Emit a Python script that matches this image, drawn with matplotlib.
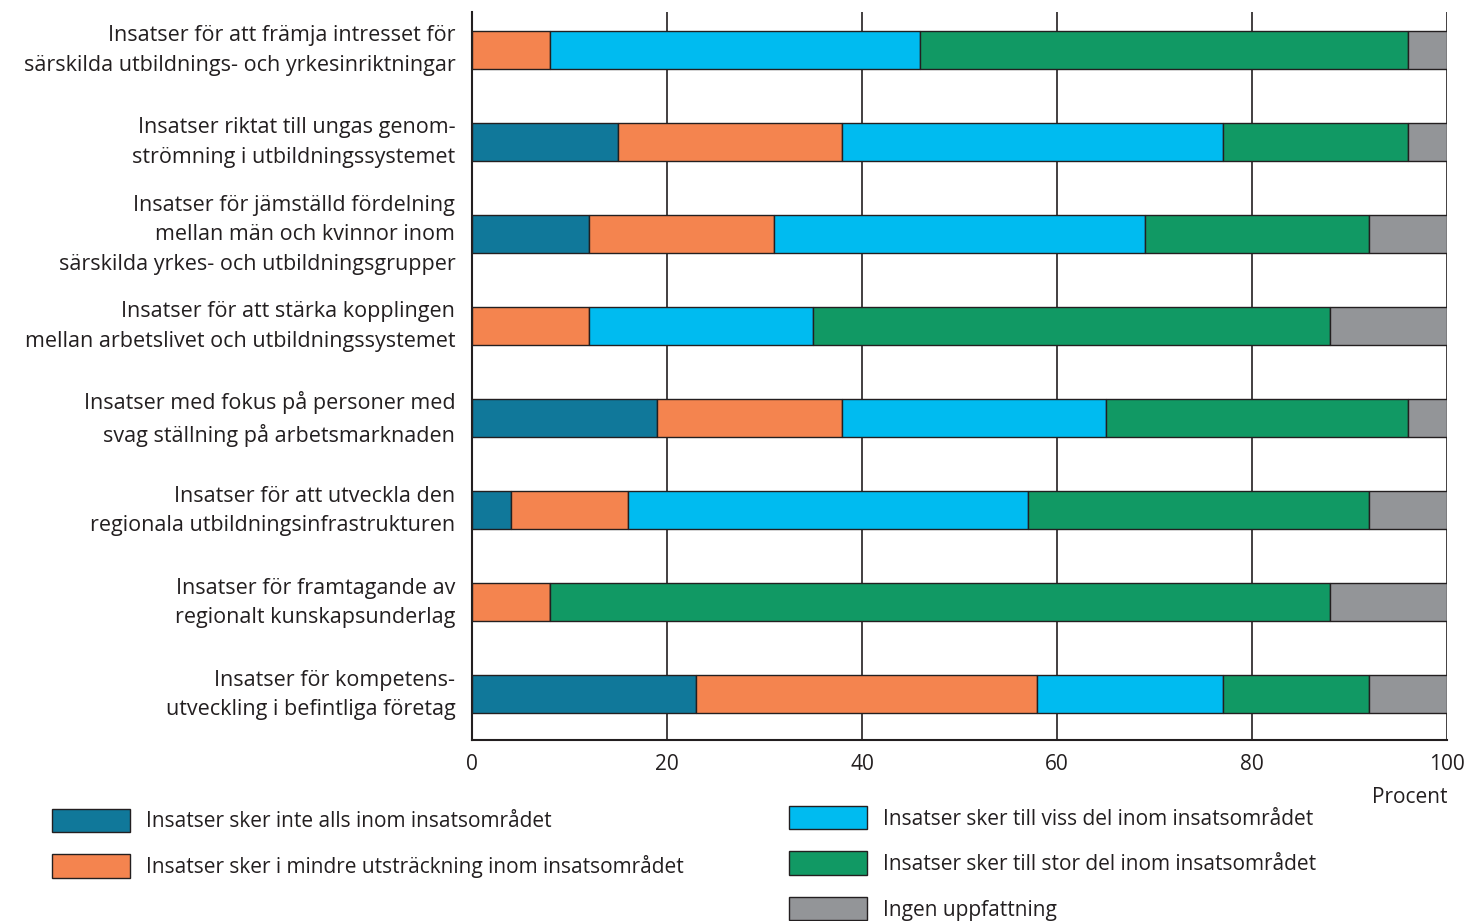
import matplotlib.pyplot as plt
import matplotlib.patches as mpatches
import matplotlib.transforms as mtransforms
import numpy as np

plt.rcParams['font.family'] = ['Open Sans', 'DejaVu Sans']

# Categories (top to bottom)
categories = [
    'Insatser för att främja intresset för\nsärskilda utbildnings- och yrkesinriktningar',
    'Insatser riktat till ungas genom-\nströmning i utbildningssystemet',
    'Insatser för jämställd fördelning\nmellan män och kvinnor inom\nsärskilda yrkes- och utbildningsgrupper',
    'Insatser för att stärka kopplingen\nmellan arbetslivet och utbildningssystemet',
    'Insatser med fokus på personer med\nsvag ställning på arbetsmarknaden',
    'Insatser för att utveckla den\nregionala utbildningsinfrastrukturen',
    'Insatser för framtagande av\nregionalt kunskapsunderlag',
    'Insatser för kompetens-\nutveckling i befintliga företag',
]

series_names = [
    'Insatser sker inte alls inom insatsområdet',
    'Insatser sker i mindre utsträckning inom insatsområdet',
    'Insatser sker till viss del inom insatsområdet',
    'Insatser sker till stor del inom insatsområdet',
    'Ingen uppfattning',
]

inte_alls = [0, 15, 12, 0, 19, 4, 0, 23]
mindre = [8, 23, 19, 12, 19, 12, 8, 35]
viss_del = [38, 39, 38, 23, 27, 41, 0, 19]
stor_del = [50, 19, 23, 53, 31, 35, 80, 15]
ingen = [4, 4, 8, 12, 4, 8, 12, 8]

colors = ['#10789A', '#F4844F', '#00BBF0', '#119964', '#939598']
text_color = '#231F20'

fig = plt.figure(figsize=(14.68, 9.21), dpi=100)
ax = fig.add_axes([0.3215, 0.1965, 0.6642, 0.7905])

y = np.arange(len(categories))
left = np.zeros(len(categories))
handles = []
for vals, col, name in zip([inte_alls, mindre, viss_del, stor_del, ingen], colors, series_names):
    vals = np.array(vals, dtype=float)
    ax.barh(y, vals, left=left, height=0.413, color=col, edgecolor='#231F20',
            linewidth=1.0, zorder=3)
    handles.append(mpatches.Patch(facecolor=col, edgecolor='#231F20', linewidth=1.0, label=name))
    left += vals

ax.set_xlim(0, 100)
ax.set_ylim(7.5, -0.413)
ax.set_xticks([0, 20, 40, 60, 80, 100])
ax.tick_params(axis='x', length=0, pad=10, labelsize=15, colors=text_color)
ax.set_yticks(y)
ax.set_yticklabels(categories, fontsize=15.5, color=text_color, linespacing=1.55)
ax.tick_params(axis='y', length=0, pad=12)
shift = mtransforms.ScaledTranslation(0, 6 / 100, fig.dpi_scale_trans)
for lbl in ax.get_yticklabels():
    lbl.set_horizontalalignment('right')
    lbl.set_multialignment('right')
    lbl.set_transform(lbl.get_transform() + shift)

ax.grid(axis='x', color='#231F20', linewidth=1.2, zorder=0)
for s in ['top', 'right']:
    ax.spines[s].set_visible(False)
for s in ['left', 'bottom']:
    ax.spines[s].set_color('#231F20')
    ax.spines[s].set_linewidth(1.5)

fig.text(0.9857, 0.134, 'Procent', ha='right', va='center', fontsize=15, color=text_color)

leg_kw = dict(loc='upper left', frameon=False, fontsize=15, handlelength=3.75,
              handleheight=1.35, labelspacing=1.05, handletextpad=0.75, borderaxespad=0)
leg1 = fig.legend(handles=handles[:2], bbox_to_anchor=(0.030, 0.131), **leg_kw)
for t in leg1.get_texts():
    t.set_color(text_color)
leg2 = fig.legend(handles=handles[2:], bbox_to_anchor=(0.532, 0.134), **leg_kw)
for t in leg2.get_texts():
    t.set_color(text_color)

fig.savefig('out.png', dpi=100)
